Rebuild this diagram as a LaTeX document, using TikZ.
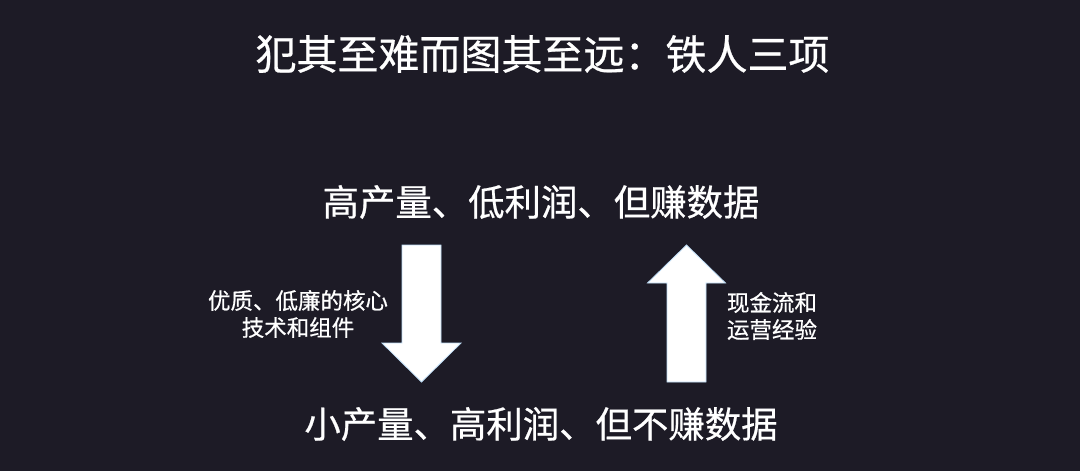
\documentclass[tikz,border=0pt]{standalone}
\usepackage{fontspec}
\setmainfont{Noto Sans CJK SC}[FakeBold=0.6]
\definecolor{slidebg}{RGB}{29, 27, 38}
\definecolor{arrowrim}{RGB}{190, 220, 245}

\begin{document}
\begin{tikzpicture}[
        x=1pt, y=-1pt,
        heading/.style={text=white, font=\fontsize{41}{48}\selectfont},
        stage/.style={text=white, font=\fontsize{36.4}{42}\selectfont},
        note/.style={text=white, align=center, font=\fontsize{22.5}{27}\selectfont},
        blockarrow/.style={draw=arrowrim, fill=white, line width=0.8pt, line join=miter}
    ]
        % Slide background
        \fill[slidebg] (0,0) rectangle (1080,471);
        \useasboundingbox (0,0) rectangle (1080,471);

        % Title
        \node[heading] (title) at (542.5,54) {犯其至难而图其至远：铁人三项};

        % Two stages
        \node[stage] (upper) at (541,202) {高产量、低利润、但赚数据};
        \node[stage] (lower) at (541,424) {小产量、高利润、但不赚数据};

        % Block arrows between the stages
        \draw[blockarrow] (402,245) -- (441,245) -- (441,343) -- (461,343)
            -- (421.5,382) -- (382,343) -- (402,343) -- cycle;
        \draw[blockarrow] (667,382) -- (706,382) -- (706,283) -- (725.5,283)
            -- (686.5,245) -- (647.5,283) -- (667,283) -- cycle;

        % Arrow labels
        \node[note] (tech) at (298,314) {优质、低廉的核心\\技术和组件};
        \node[note] (cash) at (772,316) {现金流和\\运营经验};
    \end{tikzpicture}
\end{document}
